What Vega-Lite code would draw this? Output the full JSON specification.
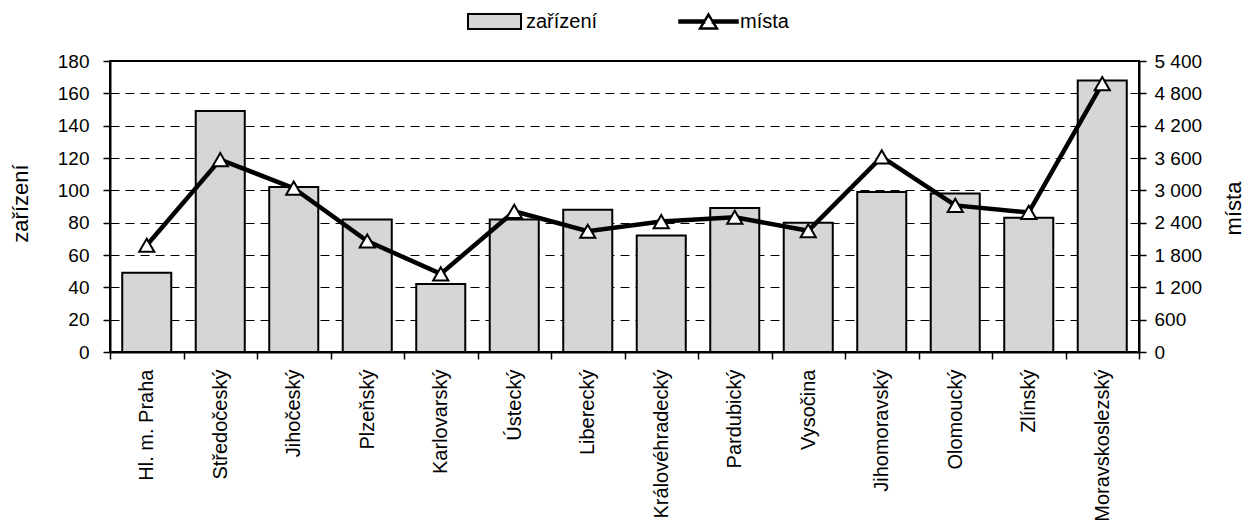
{
  "$schema": "https://vega.github.io/schema/vega-lite/v6.json",
  "width": 1029,
  "height": 291,
  "autosize": {"type": "none"},
  "padding": {"left": 110, "top": 61, "right": 108, "bottom": 176},
  "background": "white",
  "data": {
    "values": [
      {"kraj": "Hl. m. Praha", "zarizeni": 49, "mista": 1980},
      {"kraj": "Středočeský", "zarizeni": 149, "mista": 3570},
      {"kraj": "Jihočeský", "zarizeni": 102, "mista": 3040},
      {"kraj": "Plzeňský", "zarizeni": 82, "mista": 2060},
      {"kraj": "Karlovarský", "zarizeni": 42, "mista": 1450},
      {"kraj": "Ústecký", "zarizeni": 82, "mista": 2610},
      {"kraj": "Liberecký", "zarizeni": 88, "mista": 2240},
      {"kraj": "Královéhradecký", "zarizeni": 72, "mista": 2420},
      {"kraj": "Pardubický", "zarizeni": 89, "mista": 2500},
      {"kraj": "Vysočina", "zarizeni": 80, "mista": 2250},
      {"kraj": "Jihomoravský", "zarizeni": 99, "mista": 3620},
      {"kraj": "Olomoucký", "zarizeni": 98, "mista": 2720},
      {"kraj": "Zlínský", "zarizeni": 83, "mista": 2590},
      {"kraj": "Moravskoslezský", "zarizeni": 168, "mista": 4980}
    ]
  },
  "encoding": {
    "x": {
      "field": "kraj",
      "type": "nominal",
      "sort": null,
      "scale": {"paddingInner": 0, "paddingOuter": 0},
      "axis": {
        "title": null,
        "tickBand": "extent",
        "labelAngle": 270,
        "labelAlign": "right",
        "labelBaseline": "middle",
        "labelFontSize": 20,
        "labelPadding": 10,
        "tickSize": 7,
        "tickWidth": 1.5,
        "domainWidth": 2,
        "labelLimit": 300
      }
    }
  },
  "layer": [
    {
      "mark": {"type": "bar", "width": {"band": 0.667}, "stroke": "black", "strokeWidth": 2},
      "encoding": {
        "y": {
          "field": "zarizeni",
          "type": "quantitative",
          "scale": {"domain": [0, 180], "nice": false},
          "axis": {
            "title": "zařízení",
            "values": [0, 20, 40, 60, 80, 100, 120, 140, 160, 180],
            "grid": true,
            "gridColor": "black",
            "gridDash": [9, 6],
            "gridWidth": 1,
            "labelFontSize": 19,
            "labelPadding": 14,
            "tickSize": 7,
            "tickWidth": 1.5,
            "domainWidth": 2,
            "titleFontSize": 22,
            "titleAngle": 270,
            "titleX": -90,
            "titleY": 142,
            "titleAlign": "center",
            "titleBaseline": "middle"
          }
        },
        "fill": {
          "datum": "zařízení",
          "type": "nominal",
          "scale": {"range": ["#d6d6d6"]},
          "legend": {
            "title": null,
            "orient": "none",
            "legendX": 357,
            "legendY": -67,
            "padding": 0,
            "symbolType": "M-1,-0.283L1,-0.283L1,0.283L-1,0.283Z",
            "symbolSize": 2809,
            "symbolStrokeWidth": 2,
            "labelFontSize": 20,
            "labelOffset": 4,
            "encode": {
              "symbols": {
                "update": {
                  "stroke": {"value": "black"},
                  "strokeWidth": {"value": 2},
                  "fill": {"value": "#d6d6d6"}
                }
              }
            }
          }
        }
      }
    },
    {
      "mark": {"type": "line", "strokeWidth": 4.5},
      "encoding": {
        "y": {
          "field": "mista",
          "type": "quantitative",
          "scale": {"domain": [0, 5400], "nice": false},
          "axis": {
            "orient": "right",
            "title": "místa",
            "values": [0, 600, 1200, 1800, 2400, 3000, 3600, 4200, 4800, 5400],
            "labelExpr": "replace(format(datum.value, ','), ',', ' ')",
            "grid": false,
            "labelFontSize": 19,
            "labelPadding": 8,
            "tickSize": 7,
            "tickWidth": 1.5,
            "domainWidth": 2,
            "titleFontSize": 22,
            "titleAngle": 270,
            "titleX": 94,
            "titleY": 147,
            "titleAlign": "center",
            "titleBaseline": "middle"
          }
        },
        "stroke": {
          "datum": "místa",
          "type": "nominal",
          "scale": {"range": ["black"]},
          "legend": {
            "title": null,
            "orient": "none",
            "legendX": 568,
            "legendY": -70,
            "padding": 0,
            "symbolType": "M-1,-0.035L-0.15,-0.035L-0.15,0.035L-1,0.035Z M0.15,-0.035L1,-0.035L1,0.035L0.15,0.035Z M0,-0.24L0.29,0.24L-0.29,0.24Z",
            "symbolSize": 3364,
            "symbolStrokeWidth": 2.5,
            "labelFontSize": 20,
            "labelOffset": 1,
            "encode": {
              "symbols": {
                "update": {
                  "stroke": {"value": "black"},
                  "strokeWidth": {"value": 2.5},
                  "fill": {"value": "white"},
                  "opacity": {"value": 1}
                }
              }
            }
          }
        }
      }
    },
    {
      "mark": {"type": "point", "shape": "triangle-up", "filled": true, "fill": "white", "stroke": "black", "strokeWidth": 2, "size": 230, "opacity": 1},
      "encoding": {
        "y": {"field": "mista", "type": "quantitative", "scale": {"domain": [0, 5400], "nice": false}, "axis": null}
      }
    }
  ],
  "resolve": {"scale": {"y": "independent"}},
  "config": {
    "font": "Liberation Sans",
    "view": {"stroke": "black", "strokeWidth": 2},
    "axis": {
      "labelColor": "black",
      "titleColor": "black",
      "labelFont": "Liberation Sans",
      "titleFont": "Liberation Sans",
      "titleFontWeight": "normal",
      "domainColor": "black",
      "tickColor": "black"
    },
    "legend": {
      "labelColor": "black",
      "labelFont": "Liberation Sans"
    }
  }
}
